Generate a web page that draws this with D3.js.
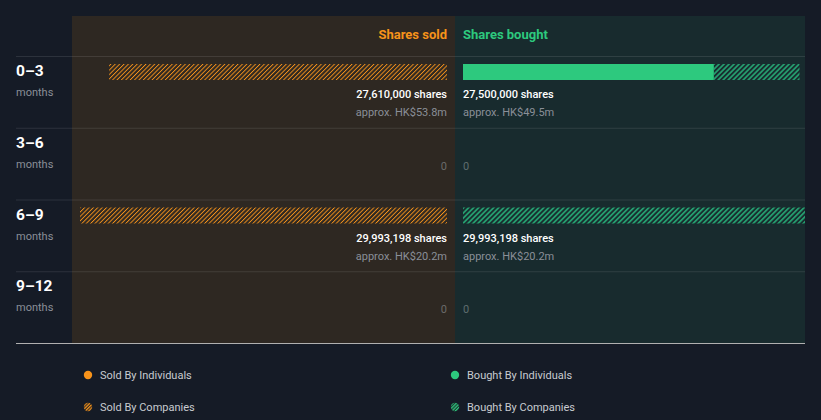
<!DOCTYPE html>
<html><head><meta charset="utf-8">
<script src="https://cdn.jsdelivr.net/npm/d3@7"></script>
<style>
html,body{margin:0;padding:0;background:#151b26;}
svg{display:block;font-family:Roboto,"Noto Sans",sans-serif;}
</style></head>
<body><svg id="c" width="821" height="420"></svg>
<script>
const periods = ["0–3", "3–6", "6–9", "9–12"];
const soldIndividuals = [0, 0, 0, 0];
const soldCompanies = [27610000, 0, 29993198, 0];
const boughtIndividuals = [20500000, 0, 0, 0];
const boughtCompanies = [7000000, 0, 29993198, 0];
const soldValue = ["HK$53.8m", null, "HK$20.2m", null];
const boughtValue = ["HK$49.5m", null, "HK$20.2m", null];
const legendItems = ["Sold By Individuals", "Sold By Companies", "Bought By Individuals", "Bought By Companies"];

(function () {
const ORANGE = "#f7931a", GREEN = "#2dc97e";
const svg = d3.select("#c");
const defs = svg.append("defs");
function hatch(id, color, w, gap, bg) {
  const p = defs.append("pattern").attr("id", id).attr("patternUnits", "userSpaceOnUse")
    .attr("width", gap).attr("height", gap).attr("patternTransform", "rotate(45)");
  if (bg) p.append("rect").attr("width", gap).attr("height", gap).attr("fill", bg);
  p.append("line").attr("x1", w / 2).attr("y1", 0).attr("x2", w / 2).attr("y2", gap)
    .attr("stroke", color).attr("stroke-width", w);
}
hatch("hs", ORANGE, 0.9, 3.1);
hatch("hb", "#25a070", 1.7, 3.54);
hatch("hsL", ORANGE, 1.2, 2.4, "#3a2f22");
hatch("hbL", "#2dc97e", 1.2, 2.4, "#1d3a33");
defs.append("clipPath").attr("id", "clipB").append("rect")
  .attr("x", 455).attr("y", 0).attr("width", 350).attr("height", 420);

const topY = 16, headerH = 40, bottomY = 343;
const leftX = 72, midX = 455, rightX = 805;
const y = d3.scaleBand().domain(periods).range([topY + headerH, bottomY]);
const maxV = d3.max(periods.map((p, i) => Math.max(soldIndividuals[i] + soldCompanies[i], boughtIndividuals[i] + boughtCompanies[i])));
const x = d3.scaleLinear().domain([0, maxV]).range([0, 367]);
const soldEnd = 447, boughtStart = 463;

svg.append("rect").attr("x", leftX).attr("y", topY).attr("width", midX - leftX).attr("height", bottomY - topY).attr("fill", "#2e2822");
svg.append("rect").attr("x", midX).attr("y", topY).attr("width", rightX - midX).attr("height", bottomY - topY).attr("fill", "#182b2e");

svg.append("text").attr("x", soldEnd).attr("y", 39).attr("text-anchor", "end")
  .attr("font-size", 13).attr("font-weight", 700).attr("fill", ORANGE).text("Shares sold");
svg.append("text").attr("x", boughtStart).attr("y", 39)
  .attr("font-size", 13).attr("font-weight", 700).attr("fill", GREEN).text("Shares bought");

periods.forEach(p => {
  svg.append("line").attr("x1", 16).attr("x2", rightX).attr("y1", y(p) + 0.5).attr("y2", y(p) + 0.5)
    .attr("stroke", "rgba(255,255,255,0.1)");
});

const fmt = d3.format(",");
const g = svg.selectAll("g.row").data(periods).join("g").attr("class", "row")
  .attr("transform", d => `translate(0,${y(d)})`);

g.append("text").attr("x", 16).attr("y", 20).attr("font-size", 15.5).attr("font-weight", 700)
  .attr("fill", "#ffffff").text(d => d);
g.append("text").attr("x", 16).attr("y", 40).attr("font-size", 11).attr("fill", "#8a8f98").text("months");

g.each(function(p, i) {
  const row = d3.select(this);
  const sI = soldIndividuals[i], sC = soldCompanies[i];
  const bI = boughtIndividuals[i], bC = boughtCompanies[i];
  const sT = sI + sC, bT = bI + bC;
  if (sI > 0) row.append("rect").attr("x", soldEnd - x(sI)).attr("y", 8).attr("width", x(sI)).attr("height", 16).attr("fill", ORANGE);
  if (sC > 0) row.append("rect").attr("x", soldEnd - x(sT)).attr("y", 8).attr("width", x(sC)).attr("height", 16).attr("fill", "url(#hs)");
  const bg = row.append("g").attr("clip-path", "url(#clipB)");
  if (bI > 0) bg.append("rect").attr("x", boughtStart).attr("y", 8).attr("width", x(bI)).attr("height", 16).attr("fill", GREEN);
  if (bC > 0) bg.append("rect").attr("x", boughtStart + x(bI)).attr("y", 8).attr("width", x(bC)).attr("height", 16).attr("fill", "url(#hb)");
  if (sT > 0) {
    row.append("text").attr("x", soldEnd).attr("y", 42).attr("text-anchor", "end").attr("font-size", 11)
      .attr("font-weight", 500).attr("fill", "#ffffff").text(fmt(sT) + " shares");
    row.append("text").attr("x", soldEnd).attr("y", 60).attr("text-anchor", "end").attr("font-size", 11)
      .attr("fill", "#8a8f98").text("approx. " + soldValue[i]);
  } else {
    row.append("text").attr("x", soldEnd).attr("y", 42).attr("text-anchor", "end").attr("font-size", 11)
      .attr("fill", "#6b6b6b").text("0");
  }
  if (bT > 0) {
    row.append("text").attr("x", boughtStart).attr("y", 42).attr("font-size", 11)
      .attr("font-weight", 500).attr("fill", "#ffffff").text(fmt(bT) + " shares");
    row.append("text").attr("x", boughtStart).attr("y", 60).attr("font-size", 11)
      .attr("fill", "#8a8f98").text("approx. " + boughtValue[i]);
  } else {
    row.append("text").attr("x", boughtStart).attr("y", 42).attr("font-size", 11)
      .attr("fill", "#5f6d6e").text("0");
  }
});

svg.append("line").attr("x1", 16).attr("x2", rightX).attr("y1", bottomY + 0.5).attr("y2", bottomY + 0.5)
  .attr("stroke", "#b0b0b0");

const legendPos = [[88, 375], [88, 407], [455, 375], [455, 407]];
const legendFill = [ORANGE, "url(#hsL)", GREEN, "url(#hbL)"];
legendItems.forEach((t, i) => {
  const [lx, ly] = legendPos[i];
  svg.append("circle").attr("cx", lx).attr("cy", ly).attr("r", 4.2).attr("fill", legendFill[i]);
  svg.append("text").attr("x", lx + 12).attr("y", ly + 4).attr("font-size", 11).attr("fill", "#c8cbd0").text(t);
});
})();
</script></body></html>
